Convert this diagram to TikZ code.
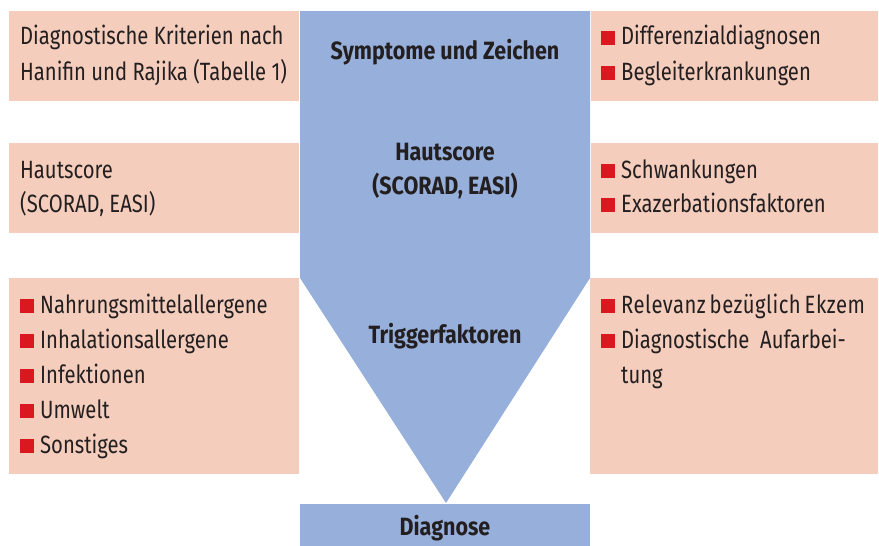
\documentclass[tikz,border=0pt]{standalone}
\usepackage{fontspec}
\setmainfont{Fira Sans}[FakeStretch=0.81,BoldFeatures={FakeStretch=0.86}]
\definecolor{boxrose}{HTML}{F4CDBC}
\definecolor{funnelblue}{HTML}{97B0DB}
\definecolor{bulletred}{HTML}{D9181F}
\definecolor{textdark}{HTML}{231F20}
\newcommand{\bul}{\textcolor{bulletred}{\rule{14pt}{14pt}}\hspace{6pt}}
\begin{document}
\begin{tikzpicture}[x=1pt,y=-1pt,
    rosebox/.style={fill=boxrose,draw=none,anchor=north west,inner sep=0pt},
    bluebox/.style={fill=funnelblue,draw=none,anchor=north west,inner sep=0pt},
    txt/.style={anchor=base west,inner sep=0pt,text=textdark,font=\fontsize{25}{35}\selectfont},
    mid/.style={anchor=base,inner sep=0pt,text=textdark,font=\fontsize{25}{35}\selectfont\bfseries}]
\useasboundingbox (0,0) rectangle (879,546);
% boxes
\node[rosebox,minimum width=290pt,minimum height=90pt] (kl1) at (9,11) {};
\node[rosebox,minimum width=287pt,minimum height=90pt] (kr1) at (591,11) {};
\node[rosebox,minimum width=290pt,minimum height=90pt] (kl2) at (9,143) {};
\node[rosebox,minimum width=287pt,minimum height=90pt] (kr2) at (591,143) {};
\node[rosebox,minimum width=290pt,minimum height=196pt] (kl3) at (9,278) {};
\node[rosebox,minimum width=288pt,minimum height=196pt] (kr3) at (590,278) {};
% funnel
\fill[funnelblue] (300,11) -- (590,11) -- (590,278) -- (446,503) -- (300,278) -- cycle;
\node[bluebox,minimum width=290pt,minimum height=42pt] (diag) at (300,504) {};
% middle
\node[mid] (symp) at (445,59) {Symptome und Zeichen};
\node[mid] (haut) at (445,160) {Hautscore};
\node[mid] (scor) at (445,194) {(SCORAD, EASI)};
\node[mid] (trig) at (445,343) {Triggerfaktoren};
\node[mid] (dg) at (445,535) {Diagnose};
% left
\node[txt] (l1a) at (20,45) {Diagnostische Kriterien nach};
\node[txt] (l1b) at (20,80) {Hanifin und Rajika (Tabelle 1)};
\node[txt] (l2a) at (20,178) {Hautscore};
\node[txt] (l2b) at (20,212) {(SCORAD, EASI)};
\foreach \t [count=\i] in {Nahrungsmittelallergene,Inhalationsallergene,Infektionen,Umwelt,Sonstiges}
  \node[txt] (l3-\i) at (20,278+35*\i) {\bul\t};
% right
\node[txt] (r1a) at (601,45) {\bul Differenzialdiagnosen};
\node[txt] (r1b) at (601,80) {\bul Begleiterkrankungen};
\node[txt] (r2a) at (601,178) {\bul Schwankungen};
\node[txt] (r2b) at (601,212) {\bul Exazerbationsfaktoren};
\node[txt] (r3a) at (601,313) {\bul\addfontfeatures{LetterSpace=2}\makebox[238pt][s]{Relevanz bezüglich Ekzem}};
\node[txt] (r3b) at (601,348) {\bul Diagnostische\ \ Aufarbei-};
\node[txt] (r3c) at (621,383) {tung};
\end{tikzpicture}
\end{document}
